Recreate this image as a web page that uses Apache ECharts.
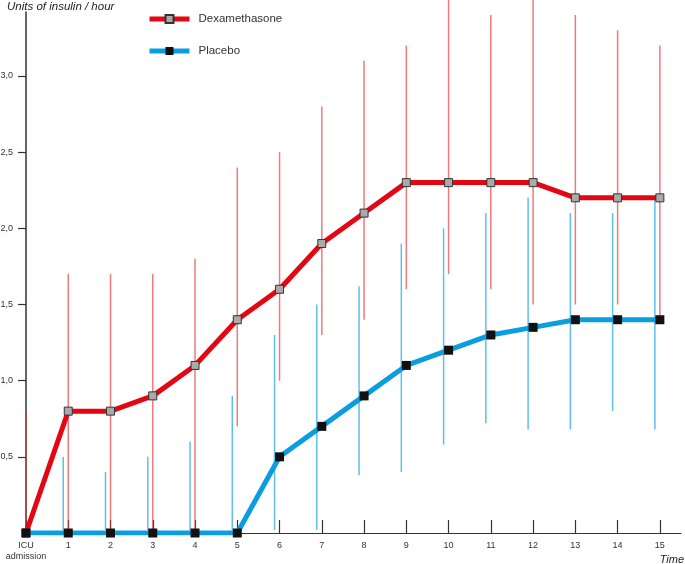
<!DOCTYPE html>
<html>
<head>
<meta charset="utf-8">
<script src="https://cdn.jsdelivr.net/npm/echarts@6/dist/echarts.min.js"></script>
<style>
html,body{margin:0;padding:0;background:#fff;}
#chart{width:685px;height:564px;}
</style>
</head>
<body>
<div id="chart"></div>
<script>
const times = [0,1,2,3,4,5,6,7,8,9,10,11,12,13,14,15];
const timeLabels = ['ICU\nadmission','1','2','3','4','5','6','7','8','9','10','11','12','13','14','15'];
const yTicks = [0.5,1.0,1.5,2.0,2.5,3.0];

const dexaMean = [0,0.8,0.8,0.9,1.1,1.4,1.6,1.9,2.1,2.3,2.3,2.3,2.3,2.2,2.2,2.2];
const dexaLow  = [0,0,0,0,0,0.7,1.0,1.3,1.4,1.6,1.7,1.6,1.5,1.5,1.5,1.4];
const dexaHigh = [0.8,1.7,1.7,1.7,1.8,2.4,2.5,2.8,3.1,3.2,3.6,3.4,3.6,3.4,3.3,3.2];

const placeboMean = [0,0,0,0,0,0,0.5,0.7,0.9,1.1,1.2,1.3,1.35,1.4,1.4,1.4];
const placeboLow  = [null,0.02,0.02,0.02,0.02,0.02,0.02,0.02,0.38,0.4,0.58,0.72,0.68,0.68,0.8,0.68];
const placeboHigh = [null,0.5,0.4,0.5,0.6,0.9,1.3,1.5,1.62,1.9,2.0,2.1,2.2,2.1,2.1,2.2];

const FONT = "'Liberation Sans', Arial, Helvetica, sans-serif";

function errorSeries(name, low, high, color, dx) {
  return {
    type: 'custom',
    name: name,
    silent: true,
    clip: false,
    z: 1,
    data: times.map((t, i) => [t, low[i], high[i]]).filter(d => d[1] != null),
    encode: { x: 0, y: [1, 2] },
    renderItem: function (params, api) {
      const p1 = api.coord([api.value(0), api.value(1)]);
      const p2 = api.coord([api.value(0), api.value(2)]);
      return {
        type: 'line',
        shape: { x1: p1[0] + dx, y1: p1[1], x2: p2[0] + dx, y2: p2[1] },
        style: { stroke: color, lineWidth: 1.5 }
      };
    }
  };
}

const chart = echarts.init(document.getElementById('chart'), null, { renderer: 'canvas' });
chart.setOption({
  animation: false,
  backgroundColor: '#fff',
  textStyle: { fontFamily: FONT },
  grid: { left: 26, right: 4, top: 12, bottom: 31, containLabel: false, outerBoundsMode: 'none' },
  legend: {
    data: ['Dexamethasone', 'Placebo'],
    orient: 'vertical',
    left: 147,
    top: 13,
    padding: 0,
    itemWidth: 40,
    itemHeight: 10,
    itemGap: 20,
    lineStyle: { width: 5 },
    textStyle: { fontFamily: FONT, fontSize: 11.5, color: '#333', padding: [0, 0, 0, 4] }
  },
  xAxis: {
    type: 'value',
    min: 0,
    max: 15.5,
    interval: 1,
    splitLine: { show: false },
    axisLine: { lineStyle: { color: '#333', width: 1.2 } },
    axisTick: { inside: true, length: 13, customValues: times, lineStyle: { color: '#333', width: 1.2 } },
    axisLabel: {
      customValues: times,
      fontFamily: FONT, fontSize: 9, color: '#333', margin: 7, lineHeight: 11,
      formatter: v => timeLabels[times.indexOf(v)] || ''
    }
  },
  yAxis: {
    type: 'value',
    min: 0,
    max: 3.42,
    interval: 0.5,
    splitLine: { show: false },
    axisLine: { lineStyle: { color: '#333', width: 1.5 } },
    axisTick: { length: 8, customValues: yTicks, lineStyle: { color: '#333', width: 1.2 } },
    axisLabel: {
      customValues: yTicks,
      fontFamily: FONT, fontSize: 9, color: '#333', margin: 13,
      formatter: v => v.toFixed(1).replace('.', ',')
    }
  },
  graphic: [
    { type: 'text', left: 7, top: 1, style: { text: 'Units of insulin / hour', font: 'italic 11.5px ' + FONT, fill: '#222' } },
    { type: 'text', right: 1, top: 554, style: { text: 'Time', font: 'italic 11px ' + FONT, fill: '#222' } }
  ],
  series: [
    errorSeries('dexaErr', dexaLow, dexaHigh, 'rgba(232,50,50,0.65)', 0),
    errorSeries('placeboErr', placeboLow, placeboHigh, 'rgba(40,170,230,0.75)', -5),
    {
      name: 'Dexamethasone',
      type: 'line',
      z: 3,
      data: times.map((t, i) => [t, dexaMean[i]]),
      symbol: 'rect',
      symbolSize: 8,
      lineStyle: { color: '#e30613', width: 5 },
      itemStyle: { color: '#aaaaaa', borderColor: '#333', borderWidth: 1 }
    },
    {
      name: 'Placebo',
      type: 'line',
      z: 4,
      data: times.map((t, i) => [t, placeboMean[i]]),
      symbol: 'rect',
      symbolSize: 9,
      lineStyle: { color: '#0a9de0', width: 5 },
      itemStyle: { color: '#111', borderColor: '#111', borderWidth: 0 }
    }
  ]
});
</script>
</body>
</html>
